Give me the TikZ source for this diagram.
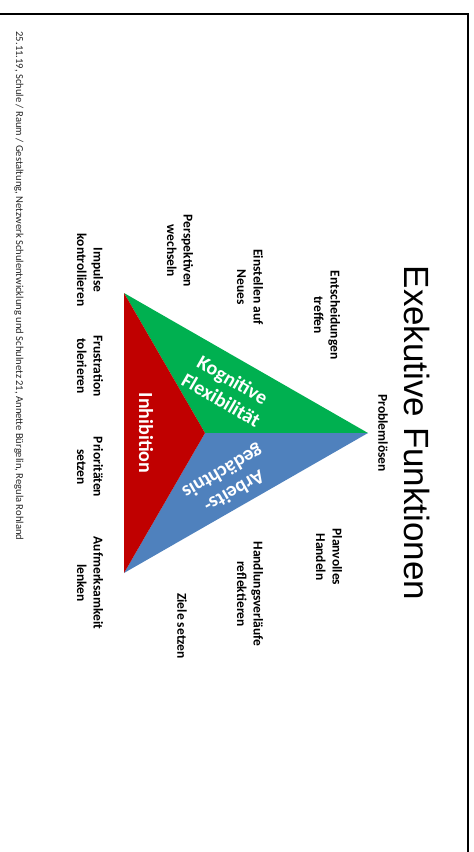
\documentclass[tikz,border=0pt]{standalone}
\usepackage{fontspec}
\setmainfont{Carlito}
\newfontfamily\titlefont{Liberation Sans}
\usetikzlibrary{positioning}
\definecolor{kgreen}{HTML}{00B050}
\definecolor{kblue}{HTML}{4F81BD}
\definecolor{kred}{HTML}{C00000}

\begin{document}
\begin{tikzpicture}[x=1pt, y=-1pt, lbl/.style={rotate=-90, align=center, inner sep=0pt, font=\bfseries\fontsize{13.5}{16.5}\selectfont}]
\tikzstyle{inlbl}=[text=white, align=center, inner sep=0pt, font=\bfseries\fontsize{20}{23}\selectfont]
\useasboundingbox (0,0) rectangle (474,852);
\draw[line width=2pt] (0,14) -- (468,14) -- (468,852);
% triangle
\coordinate (T) at (124,293);
\coordinate (B) at (124,573);
\coordinate (P) at (368,433);
\coordinate (M) at (205,433);
\fill[kgreen] (T) -- (P) -- (M) -- cycle;
\fill[kblue] (M) -- (P) -- (B) -- cycle;
\fill[kred] (T) -- (M) -- (B) -- cycle;
\node[inlbl, rotate=-90] (inh) at (146,433) {Inhibition};
\node[inlbl, rotate=-30] (kog) at (227,390) {Kognitive\\Flexibilität};
\node[inlbl, rotate=210] (arb) at (228,481) {Arbeits-\\gedächtnis};
% title and footer
\node[rotate=-90, inner sep=0pt, font=\titlefont\fontsize{35}{35}\selectfont] (title) at (417,433) {Exekutive Funktionen};
\node[rotate=-90, inner sep=0pt, text=black!85, font=\fontsize{10.6}{11}\selectfont] (foot) at (19,286) {25.11.19, Schule / Raum / Gestaltung, Netzwerk Schulentwicklung und Schulnetz 21, Annette Bürgelin, Regula Rohland};
% labels
\foreach \n/\x/\y/\t in {prob/383/433/{Problemlösen}, ents/327/315/{Entscheidungen\\treffen}, plan/329/557/{Planvolles\\Handeln}, einst/250/287/{Einstellen auf\\Neues}, hand/250/594/{Handlungsverläufe\\reflektieren}, pers/180/251/{Perspektiven\\wechseln}, ziel/182/626/{Ziele setzen}, impu/90/270/{Impulse\\kontrollieren}, frus/90/366/{Frustration\\tolerieren}, prio/90/467/{Prioritäten\\setzen}, aufm/90/583/{Aufmerksamkeit\\lenken}}{\node[lbl] (\n) at (\x,\y) {\t};}
\end{tikzpicture}
\end{document}
